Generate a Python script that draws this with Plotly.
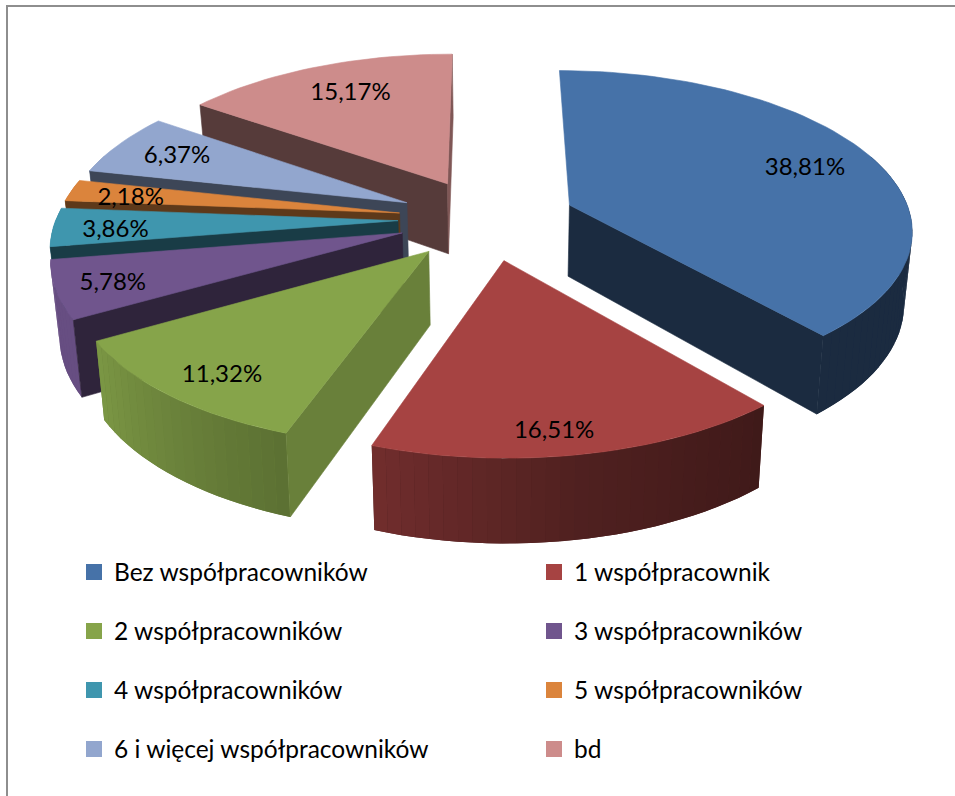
import numpy as np
import plotly.graph_objects as go

# ---- data ----
categories = ["Bez współpracowników", "1 współpracownik", "2 współpracowników", "3 współpracowników",
              "4 współpracowników", "5 współpracowników", "6 i więcej współpracowników", "bd"]
values = [38.81, 16.51, 11.32, 5.78, 3.86, 2.18, 6.37, 15.17]
colors = ["#4672A8", "#A64342", "#86A44A", "#70558D", "#3F96AE", "#DB843C", "#92A6CE", "#CD8C8B"]

# ---- perspective projection of the tilted, exploded pie ----
CX, CY = 487, 219
RX, RY, K = 342, 157, 0.14
EXPLODE = 0.26
DEPTH_BACK, DEPTH_SLOPE = 70, 0.056
VANISH_X, VANISH_RATE = 500, 0.02
PAINT_ORDER = [7, 6, 5, 4, 3, 2, 0, 1]
START_SHADE = [None, None, 0.78, 0.42, 0.40, 0.43, 0.42, 0.42]
END_SHADE = [0.38, None, None, None, None, None, None, 0.62]
LABEL_FRAC = 0.78
LABEL_NUDGE = [(0, 4), (-9, 26), (-10, 15), (-22, 7), (-14, 5), (-12, 4), (-3, 1), (8, 3)]


def project(across, depth):
    g = 1 / (1 + K * depth)
    return CX + RX * across * g, CY - RY * depth * g


def lower(x, y):
    return x - VANISH_RATE * (x - VANISH_X), y + DEPTH_BACK + DEPTH_SLOPE * (y - 185)


def wall_shade(deg):
    return np.interp(deg, [0, 140, 170, 199, 240, 360], [0.38, 0.38, 0.48, 0.68, 0.92, 0.92])


def shade(hex_color, f):
    r, g, b = [int(hex_color[i:i + 2], 16) for i in (1, 3, 5)]
    return f"rgb({r * f:.0f},{g * f:.0f},{b * f:.0f})"


def poly(xs, ys, color, line=0.6):
    xs, ys = list(xs), list(ys)
    return go.Scatter(x=xs + xs[:1], y=ys + ys[:1], mode="lines", fill="toself", fillcolor=color,
                      line=dict(color=color, width=line), hoverinfo="skip", showlegend=False)


shares = np.array(values) / sum(values) * 2 * np.pi
ends = np.cumsum(shares)
starts = ends - shares

fig = go.Figure()
labels_x, labels_y, labels_t = [], [], []

for i in PAINT_ORDER:
    a0, a1, col = starts[i], ends[i], colors[i]
    mid = (a0 + a1) / 2
    off_a, off_d = EXPLODE * np.sin(mid), EXPLODE * np.cos(mid)
    ax, ay = project(off_a, off_d)
    n = max(6, int(np.degrees(a1 - a0) / 2))
    th = np.linspace(a0, a1, n + 1)
    px, py = project(off_a + np.sin(th), off_d + np.cos(th))
    bx, by = lower(px, py)
    abx, aby = lower(ax, ay)

    # outer wall: only the part turned towards the viewer
    keep = np.cos(th) < 0.35
    if keep.sum() > 1:
        wx, wy, wbx, wby, wth = px[keep], py[keep], bx[keep], by[keep], th[keep]
        base = shade(col, wall_shade(np.degrees(wth.mean())))
        fig.add_trace(poly(np.r_[wx, wbx[::-1]], np.r_[wy, wby[::-1]], base, line=0))
        for j in range(len(wth) - 1):
            f = wall_shade(np.degrees((wth[j] + wth[j + 1]) / 2))
            fig.add_trace(poly([wx[j], wx[j + 1], wbx[j + 1], wbx[j]], [wy[j], wy[j + 1], wby[j + 1], wby[j]],
                               shade(col, f), line=0))
    if START_SHADE[i] is not None:
        fig.add_trace(poly([ax, px[0], bx[0], abx], [ay, py[0], by[0], aby], shade(col, START_SHADE[i])))
    if END_SHADE[i] is not None:
        fig.add_trace(poly([ax, px[-1], bx[-1], abx], [ay, py[-1], by[-1], aby], shade(col, END_SHADE[i])))
    fig.add_trace(poly(np.r_[ax, px], np.r_[ay, py], col))

    lx, ly = project(off_a + LABEL_FRAC * np.sin(mid), off_d + LABEL_FRAC * np.cos(mid))
    labels_x.append(lx + LABEL_NUDGE[i][0])
    labels_y.append(ly + LABEL_NUDGE[i][1])
    labels_t.append(f"{values[i]:.2f}%".replace(".", ","))

fig.add_trace(go.Scatter(x=labels_x, y=labels_y, text=labels_t, mode="text", showlegend=False, hoverinfo="skip",
                         textfont=dict(family="Lato", size=24, color="#000000")))

# ---- legend: one box per entry, two columns with wide rows ----
W, H = 955, 796
legend_cols = [74, 534]
legend_rows = [572, 631, 690, 749]
layout_legends = {}
for i, (name, col) in enumerate(zip(categories, colors)):
    key = "legend" if i == 0 else f"legend{i + 1}"
    fig.add_trace(go.Scatter(x=[None], y=[None], mode="markers", name=name, legend=key, hoverinfo="skip",
                             marker=dict(symbol="square", size=16, color=col)))
    layout_legends[key] = dict(x=legend_cols[i % 2] / W, y=1 - legend_rows[i // 2] / H, xanchor="left", yanchor="middle",
                               bgcolor="rgba(0,0,0,0)", itemwidth=30, itemclick=False, itemdoubleclick=False,
                               font=dict(family="Lato", size=24.5, color="#000000"))

fig.update_layout(
    width=W, height=H, margin=dict(l=0, r=0, t=0, b=0), paper_bgcolor="white", plot_bgcolor="white",
    xaxis=dict(range=[0, W], visible=False, fixedrange=True),
    yaxis=dict(range=[H, 0], visible=False, fixedrange=True),
    shapes=[
        dict(type="line", xref="paper", yref="paper", x0=7 / W, x1=7 / W, y0=0, y1=1 - 6 / H, line=dict(color="#8e8e8e", width=2)),
        dict(type="line", xref="paper", yref="paper", x0=6 / W, x1=1, y0=1 - 6 / H, y1=1 - 6 / H, line=dict(color="#8e8e8e", width=2)),
    ],
    **layout_legends,
)

fig.write_html("out.html", config={"displayModeBar": False}, post_script="document.body.style.margin='0';")
